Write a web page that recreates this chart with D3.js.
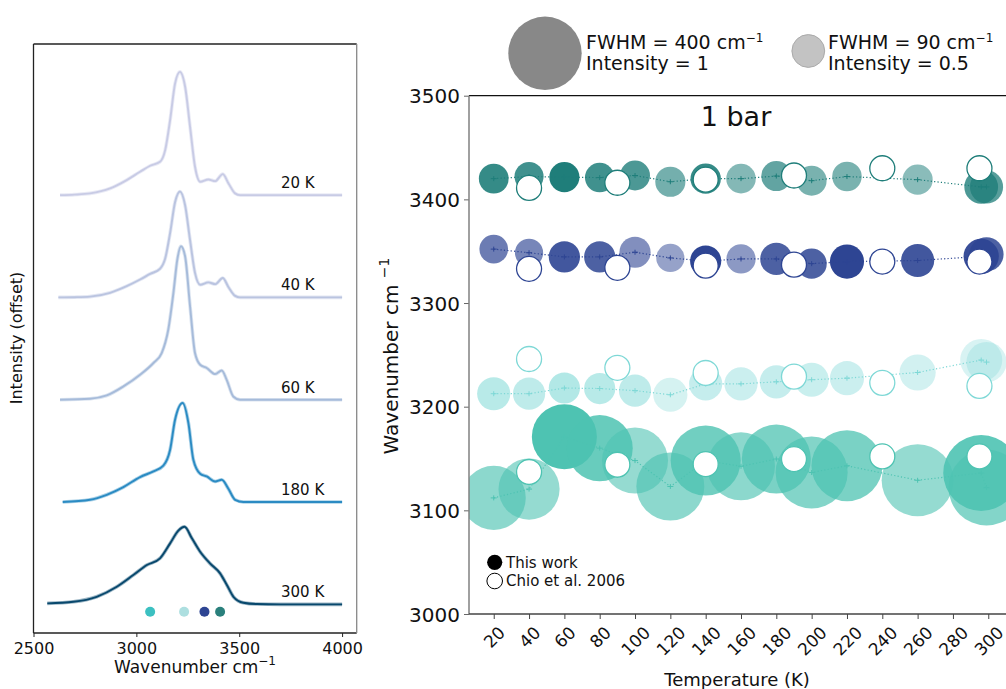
<!DOCTYPE html>
<html>
<head>
<meta charset="utf-8">
<script src="https://cdn.jsdelivr.net/npm/d3@7"></script>
<style>
  body { margin: 0; background: #fff; }
  svg { display: block; font-family: "DejaVu Sans", sans-serif; }
</style>
</head>
<body>
<svg id="chart" width="1006" height="689"></svg>
<script>
// ---------- left panel : spectra (wavenumber, intensity above baseline) ----------
var specLabels = ["20 K", "40 K", "60 K", "180 K", "300 K"];
var specColors = ["#c8cbe5", "#bac4e0", "#a6bbda", "#2b8bc3", "#08486d"];
var specOffsets = [4, 3, 2, 1, 0];

var spec20 = [[2629,0],[2700,0.005],[2775,0.017],[2872,0.065],[2953,0.147],[3018,0.228],[3067,0.287],[3115,0.326],[3140,0.44],[3164,0.733],[3188,1.09],[3212,1.205],[3237,1.059],[3261,0.668],[3285,0.277],[3310,0.13],[3350,0.153],[3383,0.137],[3420,0.205],[3448,0.114],[3480,0.017],[3504,0],[3700,0],[4000,0]];
var spec40 = [[2621,0],[2700,0.002],[2775,0.008],[2872,0.045],[2953,0.11],[3018,0.175],[3067,0.23],[3115,0.28],[3140,0.38],[3164,0.63],[3188,0.93],[3212,1.036],[3237,0.9],[3261,0.56],[3285,0.24],[3310,0.124],[3350,0.147],[3383,0.13],[3420,0.19],[3448,0.1],[3480,0.015],[3504,0],[3700,0],[4000,0]];
var spec60 = [[2629,0],[2775,0.01],[2856,0.042],[2937,0.13],[3018,0.244],[3083,0.359],[3123,0.456],[3155,0.684],[3180,1.043],[3199,1.369],[3217,1.5],[3237,1.4],[3261,0.912],[3285,0.456],[3310,0.342],[3342,0.31],[3383,0.251],[3415,0.286],[3439,0.195],[3471,0.032],[3504,0],[3700,0],[4000,0]];
var spec180 = [[2642,0],[2775,0.022],[2856,0.071],[2937,0.146],[3018,0.244],[3083,0.3],[3131,0.355],[3164,0.511],[3188,0.804],[3225,0.968],[3253,0.772],[3277,0.413],[3310,0.277],[3342,0.25],[3383,0.201],[3415,0.218],[3448,0.127],[3480,0.022],[3520,0],[3700,0],[4000,0]];
var spec300 = [[2567,0.01],[2694,0.025],[2807,0.074],[2905,0.172],[2985,0.286],[3051,0.384],[3115,0.45],[3164,0.596],[3204,0.72],[3234,0.758],[3270,0.645],[3310,0.514],[3358,0.4],[3407,0.303],[3440,0.189],[3472,0.074],[3520,0.016],[3585,0.003],[3700,0],[4000,0]];
var spectra = [spec20, spec40, spec60, spec180, spec300];

// band position markers under the 300 K spectrum
var bandMarkWn = [3067, 3232, 3331, 3407];
var bandMarkColors = ["#3cc0c1", "#addfe0", "#2e4593", "#2a807c"];
var leftTicks = [2500, 3000, 3500, 4000];

// ---------- right panel : band positions vs temperature ----------
var temps = [20, 40, 60, 80, 100, 120, 140, 160, 180, 200, 220, 260, 296, 299];

var band1Wn   = [3420, 3422, 3421.5, 3421, 3423, 3417, 3420, 3420, 3422.5, 3418, 3422, 3419, 3412, 3412];
var band1Fwhm = [75, 72, 77, 74, 76, 77, 78, 74, 77, 76, 74, 77, 95, 92];
var band1Int  = [0.9, 0.85, 1.0, 0.85, 0.8, 0.62, 0.9, 0.55, 0.7, 0.6, 0.6, 0.52, 0.8, 0.75];

var band2Wn   = [3352, 3348.5, 3344.5, 3344.5, 3349, 3343.5, 3340.5, 3342.5, 3342.5, 3338, 3340, 3341, 3345, 3347];
var band2Fwhm = [70, 68, 82, 82, 82, 68, 82, 73, 87, 77, 97, 92, 103, 97];
var band2Int  = [0.7, 0.65, 0.9, 0.85, 0.6, 0.5, 1.0, 0.55, 0.85, 0.85, 1.0, 0.9, 0.95, 0.85];

var band3Wn   = [3212.5, 3212.5, 3218, 3217.5, 3215.5, 3211.5, 3222, 3222, 3224, 3226, 3227.5, 3233, 3245, 3243];
var band3Fwhm = [92, 87, 82, 82, 87, 97, 92, 92, 92, 97, 97, 108, 143, 131];
var band3Int  = [0.55, 0.5, 0.6, 0.55, 0.5, 0.33, 0.45, 0.4, 0.45, 0.42, 0.4, 0.35, 0.3, 0.3];

var band4Wn   = [3112, 3120.5, 3171, 3160, 3148, 3123, 3148, 3142.5, 3149.5, 3136.5, 3143, 3129, 3136, 3122];
var band4Fwhm = [311, 285, 320, 329, 329, 347, 367, 347, 357, 386, 376, 386, 426, 426];
var band4Int  = [0.65, 0.6, 1.0, 0.85, 0.6, 0.65, 0.8, 0.65, 0.75, 0.7, 0.75, 0.6, 0.9, 0.7];

var bandColors = ["#1f7e7a", "#2e4593", "#7ed8d6", "#4ec3b2"];

// Chio et al. 2006
var chioTemps = [40, 90, 140, 190, 240, 295];
var chioBand1 = [3411, 3416, 3419, 3423, 3430, 3430];
var chioBand2 = [3333, 3334, 3336, 3337, 3340, 3340];
var chioBand3 = [3246, 3237.5, 3232.5, 3229, 3223, 3220];
var chioBand4 = [3137, 3144, 3144.5, 3149.5, 3152, 3152];

var tempTicks = d3.range(20, 301, 20);
var wnTicks = d3.range(3000, 3501, 100);

var svg = d3.select("#chart");

// helper: text with a superscript "−1"
function withSup(sel, main, supSize, supShift) {
    sel.append("tspan").text(main);
    sel.append("tspan").attr("font-size", supSize).attr("dy", -supShift).text("−1");
}

// ================= LEFT PANEL =================
var xL = d3.scaleLinear().domain([2500, 4071]).range([33.5, 356.7]);
var yL = d3.scaleLinear().domain([-0.28, 5.477]).range([633, 44]);

var left = svg.append("g");

var line = d3.line()
    .x(d => xL(d[0]))
    .curve(d3.curveMonotoneX);

spectra.forEach(function (s, i) {
    line.y(d => yL(specOffsets[i] + d[1]));
    // measured trace (faint, wider) under the fit
    left.append("path")
        .attr("d", line(s))
        .attr("fill", "none")
        .attr("stroke", specColors[i])
        .attr("stroke-opacity", 0.4)
        .attr("stroke-width", 3.6);
    left.append("path")
        .attr("d", line(s))
        .attr("fill", "none")
        .attr("stroke", specColors[i])
        .attr("stroke-width", 1.9);
    left.append("text")
        .attr("x", 281)
        .attr("y", yL(specOffsets[i]) - 7)
        .attr("font-size", 15)
        .attr("fill", "#111")
        .text(specLabels[i]);
});

left.selectAll(".bandmark").data(bandMarkWn).enter().append("circle")
    .attr("class", "bandmark")
    .attr("cx", d => xL(d))
    .attr("cy", 611.7)
    .attr("r", 5)
    .attr("fill", (d, i) => bandMarkColors[i]);

// spines
left.append("line").attr("x1", 33.5).attr("x2", 356.7).attr("y1", 44).attr("y2", 44).attr("stroke", "#222").attr("stroke-width", 1.3);
left.append("line").attr("x1", 33.5).attr("x2", 33.5).attr("y1", 44).attr("y2", 633).attr("stroke", "#222").attr("stroke-width", 1.3);
left.append("line").attr("x1", 33.5).attr("x2", 356.7).attr("y1", 633).attr("y2", 633).attr("stroke", "#222").attr("stroke-width", 1.3);
left.append("line").attr("x1", 356.7).attr("x2", 356.7).attr("y1", 44).attr("y2", 633).attr("stroke", "#888").attr("stroke-width", 1.3);

var xAxisL = left.append("g")
    .attr("transform", "translate(0,633)")
    .call(d3.axisBottom(xL).tickValues(leftTicks).tickSize(4).tickPadding(6).tickFormat(d3.format("d")));
xAxisL.select(".domain").remove();
xAxisL.selectAll("line").attr("stroke", "#222");
xAxisL.selectAll("text").attr("font-size", 16).attr("fill", "#111").attr("font-family", "DejaVu Sans");

left.append("text")
    .attr("x", 195).attr("y", 673)
    .attr("text-anchor", "middle")
    .attr("font-size", 17).attr("fill", "#111")
    .call(withSup, "Wavenumber cm", 12, 8);

left.append("text")
    .attr("transform", "translate(22,338) rotate(-90)")
    .attr("text-anchor", "middle")
    .attr("font-size", 16).attr("fill", "#111")
    .text("Intensity (offset)");

// ================= RIGHT PANEL =================
var xR = d3.scaleLinear().domain([6, 314]).range([469, 1013]);
var yR = d3.scaleLinear().domain([3000, 3500]).range([614, 95.7]);
var rScale = d3.scalePow().exponent(0.54).domain([0, 400]).range([0, 36.7]);

var right = svg.append("g");

right.append("clipPath").attr("id", "clipR")
    .append("rect").attr("x", 469).attr("y", 95.7).attr("width", 544).attr("height", 518.3);

var plot = right.append("g").attr("clip-path", "url(#clipR)");

var bands = [
    { wn: band4Wn, fwhm: band4Fwhm, inten: band4Int, chio: chioBand4, color: bandColors[3] },
    { wn: band3Wn, fwhm: band3Fwhm, inten: band3Int, chio: chioBand3, color: bandColors[2] },
    { wn: band2Wn, fwhm: band2Fwhm, inten: band2Int, chio: chioBand2, color: bandColors[1] },
    { wn: band1Wn, fwhm: band1Fwhm, inten: band1Int, chio: chioBand1, color: bandColors[0] }
];

// this work: bubbles sized by FWHM, opacity by intensity
bands.forEach(function (b) {
    var pts = temps.map((t, i) => ({ t: t, v: b.wn[i], f: b.fwhm[i], a: b.inten[i] }));
    plot.append("g").selectAll("circle").data(pts).enter().append("circle")
        .attr("cx", d => xR(d.t))
        .attr("cy", d => yR(d.v))
        .attr("r", d => rScale(d.f))
        .attr("fill", b.color)
        .attr("fill-opacity", d => d.a);
    b.pts = pts;
});

// dotted connecting lines + small error crosses
bands.forEach(function (b) {
    plot.append("path")
        .attr("d", d3.line().x(d => xR(d.t)).y(d => yR(d.v))(b.pts))
        .attr("fill", "none")
        .attr("stroke", b.color)
        .attr("stroke-width", 1.2)
        .attr("stroke-dasharray", "1.2,2.2");
    var g = plot.append("g").selectAll("g").data(b.pts).enter().append("g")
        .attr("transform", d => "translate(" + xR(d.t) + "," + yR(d.v) + ")")
        .attr("stroke", b.color).attr("stroke-width", 1);
    g.append("line").attr("x1", -3).attr("x2", 3);
    g.append("line").attr("y1", -2.5).attr("y2", 2.5);
});

// Chio et al. 2006: open circles
bands.forEach(function (b) {
    plot.append("g").selectAll("circle").data(chioTemps).enter().append("circle")
        .attr("cx", d => xR(d))
        .attr("cy", (d, i) => yR(b.chio[i]))
        .attr("r", 12.5)
        .attr("fill", "#fff")
        .attr("stroke", b.color)
        .attr("stroke-width", 1.3);
});

// axes
var yAxisR = right.append("g")
    .attr("transform", "translate(469,0)")
    .call(d3.axisLeft(yR).tickValues(wnTicks).tickSize(5).tickPadding(4).tickFormat(d3.format("d")));
yAxisR.select(".domain").remove();
yAxisR.selectAll("line").attr("stroke", "#666");
yAxisR.selectAll("text").attr("font-size", 20).attr("fill", "#111").attr("font-family", "DejaVu Sans").attr("dy", "0.364em");

var xAxisR = right.append("g")
    .attr("transform", "translate(0,614)")
    .call(d3.axisBottom(xR).tickValues(tempTicks).tickSize(5));
xAxisR.select(".domain").remove();
xAxisR.selectAll("line").attr("stroke", "#444");
xAxisR.selectAll("text")
    .attr("font-size", 17).attr("fill", "#111").attr("font-family", "DejaVu Sans")
    .attr("y", 0).attr("dy", "0.364em").attr("text-anchor", "middle")
    .each(function () {
        var w = this.getComputedTextLength();
        d3.select(this).attr("transform", "translate(0," + (11 + 0.3535 * (w + 12.4)) + ") rotate(-45)");
    });

// spines
right.append("line").attr("x1", 469).attr("x2", 1006).attr("y1", 95.7).attr("y2", 95.7).attr("stroke", "#111").attr("stroke-width", 1.3);
right.append("line").attr("x1", 469).attr("x2", 469).attr("y1", 95.7).attr("y2", 614).attr("stroke", "#808080").attr("stroke-width", 1.5);
right.append("line").attr("x1", 469).attr("x2", 1006).attr("y1", 614).attr("y2", 614).attr("stroke", "#444").attr("stroke-width", 1.3);

right.append("text")
    .attr("x", 736).attr("y", 126)
    .attr("text-anchor", "middle")
    .attr("font-size", 27).attr("fill", "#111")
    .text("1 bar");

right.append("text")
    .attr("transform", "translate(398,356) rotate(-90)")
    .attr("text-anchor", "middle")
    .attr("font-size", 20).attr("fill", "#111")
    .call(withSup, "Wavenumber cm ", 14, 9);

right.append("text")
    .attr("x", 737).attr("y", 686)
    .attr("text-anchor", "middle")
    .attr("font-size", 18).attr("fill", "#111")
    .text("Temperature (K)");

// inner legend
right.append("circle").attr("cx", 494.7).attr("cy", 562.3).attr("r", 7.6).attr("fill", "#000");
right.append("text").attr("x", 506).attr("y", 567.5).attr("font-size", 15).attr("fill", "#111").text("This work");
right.append("circle").attr("cx", 494.7).attr("cy", 581).attr("r", 7.8).attr("fill", "#fff").attr("stroke", "#000").attr("stroke-width", 1);
right.append("text").attr("x", 506).attr("y", 586.2).attr("font-size", 15).attr("fill", "#111").text("Chio et al. 2006");

// size / intensity key above the panel
var key = [
    { fwhm: 400, inten: 1, cx: 545, cy: 53.3, tx: 586, label: "FWHM = 400 cm", sub: "Intensity = 1" },
    { fwhm: 90, inten: 0.5, cx: 808.3, cy: 51, tx: 828, label: "FWHM = 90 cm", sub: "Intensity = 0.5" }
];
key.forEach(function (k) {
    svg.append("circle")
        .attr("cx", k.cx).attr("cy", k.cy)
        .attr("r", rScale(k.fwhm))
        .attr("fill", "#888")
        .attr("fill-opacity", k.inten)
        .attr("stroke", k.inten < 1 ? "#aaa" : "none")
        .attr("stroke-width", 1);
    svg.append("text")
        .attr("x", k.tx).attr("y", 49)
        .attr("font-size", 19).attr("fill", "#111")
        .call(withSup, k.label, 12, 7);
    svg.append("text")
        .attr("x", k.tx).attr("y", 70)
        .attr("font-size", 19).attr("fill", "#111")
        .text(k.sub);
});
</script>
</body>
</html>
